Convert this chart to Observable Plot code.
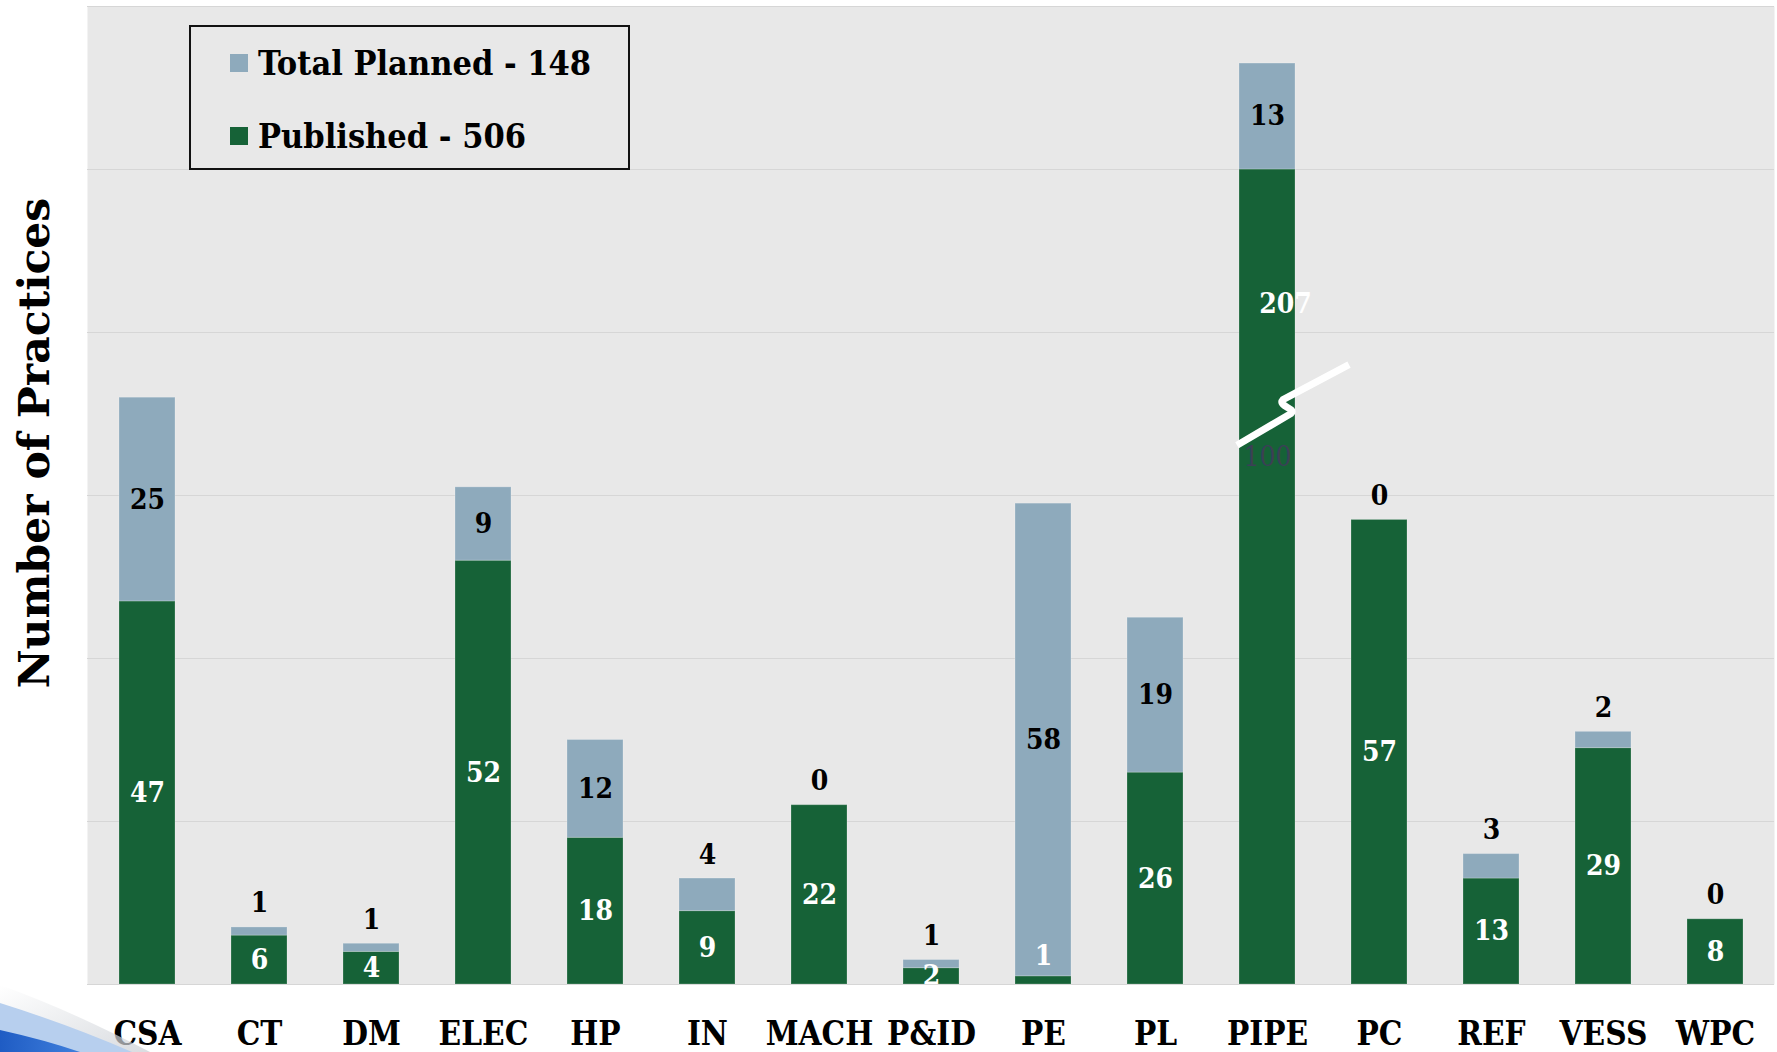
<!DOCTYPE html>
<html>
<head>
<meta charset="utf-8">
<script src="https://cdn.jsdelivr.net/npm/d3@7"></script>
<script src="https://cdn.jsdelivr.net/npm/@observablehq/plot@0.6"></script>
<style>
  html, body { margin: 0; padding: 0; background: #ffffff; }
  #wrap { position: relative; width: 1777px; height: 1052px; overflow: hidden; }
  #chart svg { display: block; }
  .cond { font-family: "DejaVu Serif Condensed", "DejaVu Serif", serif; font-stretch: condensed; font-weight: bold; }
  #ytitle {
    position: absolute; left: 34px; top: 443px;
    transform: translate(-50%, -50%) rotate(-90deg);
    white-space: nowrap; font-family: "DejaVu Serif", serif; font-weight: bold;
    font-size: 42.5px; color: #000;
  }
  #legend {
    position: absolute; left: 189px; top: 25px; width: 437px; height: 141px;
    border: 2px solid #111; box-sizing: content-box;
  }
  .item { position: absolute; left: 39px; display: flex; align-items: center; height: 40px; font-size: 34px; color: #000; }
  .item .sw { width: 18px; height: 18px; margin-right: 10px; }
  #deco { position: absolute; left: 0; top: 0; pointer-events: none; }
</style>
</head>
<body>
<div id="wrap">
  <div id="chart"></div>
  <div id="ytitle">Number of Practices</div>
  <div id="legend"></div>
  <svg id="deco" width="1777" height="1052"></svg>
</div>
<script>
// Practice counts per discipline
const categories = ["CSA", "CT", "DM", "ELEC", "HP", "IN", "MACH", "P&ID", "PE", "PL", "PIPE", "PC", "REF", "VESS", "WPC"];
const published  = [47, 6, 4, 52, 18, 9, 22, 2, 1, 26, 207, 57, 13, 29, 8];
const planned    = [25, 1, 1, 9, 12, 4, 0, 1, 58, 19, 13, 0, 3, 2, 0];
const seriesNames = ["Published", "Planned"];
const legendLabels = ["Total Planned - 148", "Published - 506"];
const yTicks = [0, 20, 40, 60, 80, 100, 120];
const axisBreak = 100; // bars taller than this are cut at the break

const GREEN = "#166237";
const BLUE = "#8eaabc";
const COND = '"DejaVu Serif Condensed", "DejaVu Serif", serif';

const rows = categories.map((cat, i) => ({
  cat,
  published: published[i],
  planned: planned[i],
  pubDrawn: Math.min(published[i], axisBreak)
}));

const stacked = rows.flatMap(d => [
  {cat: d.cat, series: "Published", value: d.pubDrawn},
  {cat: d.cat, series: "Planned", value: d.planned}
]);

const normalPub = rows.filter(d => d.published <= axisBreak);
const brokenPub = rows.filter(d => d.published > axisBreak);
const plannedInside = rows.filter(d => d.planned > 4);
const plannedAbove = rows.filter(d => d.planned <= 4);

const labelFont = {fontFamily: COND, fontWeight: "bold", fontSize: 28};

const chart = Plot.plot({
  width: 1777,
  height: 1052,
  marginLeft: 87,
  marginRight: 3,
  marginTop: 6,
  marginBottom: 68,
  x: {domain: categories, paddingInner: 0.5, paddingOuter: 0.25, label: null},
  y: {domain: [0, 120], axis: null},
  color: {domain: seriesNames, range: [GREEN, BLUE]},
  style: {background: "#ffffff", fontFamily: COND},
  marks: [
    Plot.frame({fill: "#e8e8e8", stroke: null}),
    Plot.gridY(yTicks, {stroke: "#d6d6d6", strokeOpacity: 1, strokeWidth: 1.2}),
    Plot.barY(stacked, {x: "cat", y: "value", fill: "series", stroke: "#ffffff", strokeOpacity: 0.22, strokeWidth: 1}),
    // published counts, centred in the green segment
    Plot.text(normalPub, {
      x: "cat",
      y: d => d.pubDrawn < 2 ? 3.5 : d.pubDrawn / 2,
      text: d => String(d.published),
      fill: "#ffffff", clip: "frame", ...labelFont
    }),
    // broken bar: true count above the break, drawn height below it
    Plot.text(brokenPub, {
      x: "cat", y: axisBreak * 0.835, dx: 18,
      text: d => String(d.published),
      fill: "#ffffff", ...labelFont
    }),
    Plot.text(brokenPub, {
      x: "cat", y: axisBreak * 0.647,
      text: d => String(d.pubDrawn),
      fill: "#3b4056", fontFamily: COND, fontWeight: "normal", fontSize: 28
    }),
    // planned counts: inside the segment when it is tall enough, above the bar otherwise
    Plot.text(plannedInside, {
      x: "cat",
      y: d => d.pubDrawn + d.planned / 2,
      text: d => String(d.planned),
      fill: "#000000", ...labelFont
    }),
    Plot.text(plannedAbove, {
      x: "cat",
      y: d => d.pubDrawn + d.planned,
      dy: -24,
      text: d => String(d.planned),
      fill: "#000000", ...labelFont
    }),
    Plot.axisX({tickSize: 0, tickPadding: 37, fontSize: 33, fontWeight: "bold", fontFamily: COND, label: null, fill: "#000"})
  ]
});

document.getElementById("chart").appendChild(chart);

// axis-break marker across the cut bar, placed with the chart's own scales
const xs = chart.scale("x");
const ys = chart.scale("y");
brokenPub.forEach(d => {
  const cx = xs.apply(d.cat) + xs.bandwidth / 2;
  const P = (dx, v) => [cx + dx, ys.apply(v)];
  const a0 = P(-30, 66.1), a1 = P(24, 70.0), c1 = P(30, 70.6), c2 = P(10, 70.9), b0 = P(16, 71.7), b1 = P(82, 76.0);
  const path = `M${a0}L${a1}C${c1} ${c2} ${b0}L${b1}`;
  d3.select(chart).append("path")
    .attr("d", path)
    .attr("fill", "none")
    .attr("stroke", "#ffffff")
    .attr("stroke-width", 7)
    .attr("stroke-linejoin", "round");
});

// legend
const legend = d3.select("#legend");
[[legendLabels[0], BLUE, 16], [legendLabels[1], GREEN, 89]].forEach(([label, color, top]) => {
  const it = legend.append("div").attr("class", "item cond").style("top", top + "px");
  it.append("div").attr("class", "sw").style("background", color);
  it.append("span").text(label);
});

// slide corner ornament
const deco = d3.select("#deco");
const defs = deco.append("defs");
const g1 = defs.append("linearGradient").attr("id", "shade").attr("x1", 0).attr("y1", 0).attr("x2", 1).attr("y2", 1);
g1.append("stop").attr("offset", "0%").attr("stop-color", "#ffffff");
g1.append("stop").attr("offset", "100%").attr("stop-color", "#c9cdd3");
const g2 = defs.append("linearGradient").attr("id", "deep").attr("x1", 0).attr("y1", 0).attr("x2", 1).attr("y2", 0);
g2.append("stop").attr("offset", "0%").attr("stop-color", "#1f5cc4");
g2.append("stop").attr("offset", "100%").attr("stop-color", "#3f7fdc");
deco.append("path").attr("d", "M0,985 Q70,1010 150,1052 L0,1052 Z").attr("fill", "url(#shade)").attr("opacity", 0.7);
deco.append("path").attr("d", "M0,1003 Q70,1025 132,1052 L0,1052 Z").attr("fill", "#b7cfee");
deco.append("path").attr("d", "M0,1030 Q45,1040 80,1052 L0,1052 Z").attr("fill", "url(#deep)");
</script>
</body>
</html>
